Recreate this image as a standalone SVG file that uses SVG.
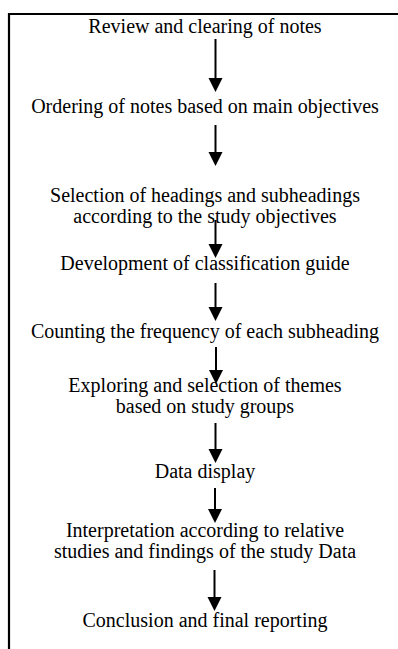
<svg xmlns="http://www.w3.org/2000/svg" width="398" height="649" viewBox="0 0 398 649">
<defs>
<style>
.t{font-family:"Liberation Serif","Times New Roman",serif;font-size:20px;fill:#000;text-anchor:middle}
.c line{stroke:#000;stroke-width:2}
.c polygon{fill:#000}
.frame{stroke:#000;stroke-width:2.2;fill:none}
</style>
</defs>
<rect width="398" height="649" fill="#fff"/>
<path class="frame" d="M9 649 V14 H398"/>
<g id="n1"><text class="t" x="205" y="32.5">Review and clearing of notes</text></g>
<g id="n2"><text class="t" x="205" y="113">Ordering of notes based on main objectives</text></g>
<g id="n3"><text class="t" x="205" y="202">Selection of headings and subheadings</text><text class="t" x="205" y="223">according to the study objectives</text></g>
<g id="n4"><text class="t" x="205" y="270">Development of classification guide</text></g>
<g id="n5"><text class="t" x="205" y="338">Counting the frequency of each subheading</text></g>
<g id="n6"><text class="t" x="205" y="392">Exploring and selection of themes</text><text class="t" x="205" y="413">based on study groups</text></g>
<g id="n7"><text class="t" x="205" y="478">Data display</text></g>
<g id="n8"><text class="t" x="205" y="537">Interpretation according to relative</text><text class="t" x="205" y="558">studies and findings of the study Data</text></g>
<g id="n9"><text class="t" x="205" y="627">Conclusion and final reporting</text></g>
<g id="connectors" class="c">
<line x1="215.5" y1="39" x2="215.5" y2="79"/><polygon points="208.5,78 222.5,78 215.5,92"/>
<line x1="215.5" y1="125" x2="215.5" y2="153"/><polygon points="208.5,152 222.5,152 215.5,166"/>
<line x1="215.5" y1="220" x2="215.5" y2="245"/><polygon points="208.5,244 222.5,244 215.5,258"/>
<line x1="215.5" y1="283" x2="215.5" y2="308"/><polygon points="208.5,307 222.5,307 215.5,321"/>
<line x1="216" y1="347" x2="216" y2="371"/><polygon points="209,370 223,370 216,384"/>
<line x1="215.5" y1="423" x2="215.5" y2="450"/><polygon points="208.5,449 222.5,449 215.5,463"/>
<line x1="215" y1="488" x2="215" y2="510"/><polygon points="208,509 222,509 215,523"/>
<line x1="214.5" y1="570" x2="214.5" y2="598"/><polygon points="207.5,597 221.5,597 214.5,611"/>
</g>
</svg>
